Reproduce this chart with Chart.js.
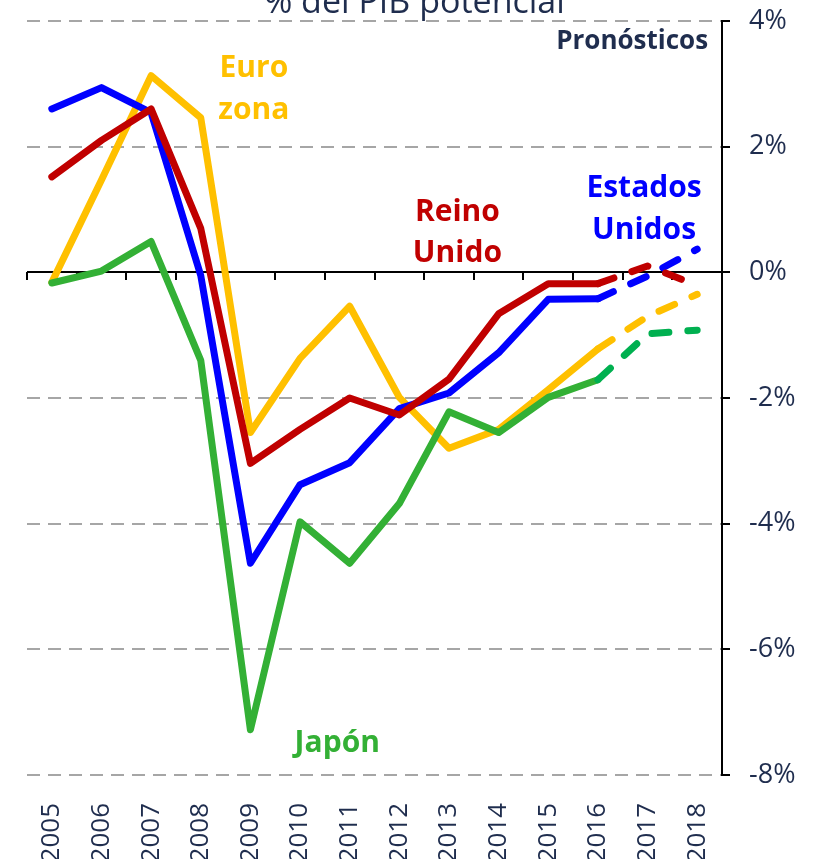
<!DOCTYPE html>
<html>
<head>
<meta charset="utf-8">
<script src="https://cdn.jsdelivr.net/npm/chart.js@4.4.0/dist/chart.umd.min.js"></script>
<style>
    body { margin: 0; background: #fff; }
</style>
</head>
<body>
<canvas id="chart" width="815" height="859"></canvas>
<script>
// Output gap, % of potential GDP
const years = ['2005', '2006', '2007', '2008', '2009', '2010', '2011', '2012', '2013', '2014', '2015', '2016', '2017', '2018'];
const estadosUnidos = [2.6, 2.94, 2.54, -0.05, -4.63, -3.38, -3.03, -2.17, -1.92, -1.28, -0.43, -0.42, -0.06, 0.37];
const reinoUnido = [1.52, 2.1, 2.6, 0.7, -3.04, -2.5, -2.0, -2.27, -1.7, -0.66, -0.18, -0.18, 0.1, -0.21];
const euroZona = [-0.16, 1.47, 3.13, 2.46, -2.55, -1.37, -0.54, -1.99, -2.8, -2.5, -1.87, -1.22, -0.7, -0.35];
const japon = [-0.17, 0.02, 0.49, -1.4, -7.28, -3.97, -4.63, -3.68, -2.22, -2.55, -1.99, -1.71, -0.98, -0.92];
const yTicks = [-8, -6, -4, -2, 0, 2, 4];
const forecastFrom = '2016';

const navy = '#1F2D4E';
const font = '"Open Sans"';
const forecastStart = years.indexOf(forecastFrom);

// series labels, placed in data coordinates (category index, value)
const seriesLabels = [
    { lines: ['Euro', 'zona'], color: '#FFC000', x: 4.07, y: [3.24, 2.57] },
    { lines: ['Reino', 'Unido'], color: '#C00000', x: 8.17, y: [0.95, 0.3] },
    { lines: ['Estados', 'Unidos'], color: '#0000FF', x: 11.93, y: [1.33, 0.67] },
    { lines: ['Japón'], color: '#33B035', x: 5.75, y: [-7.49] }
];

function lineSet(label, data, color, dashColor) {
    return {
        label: label,
        data: data,
        borderColor: color,
        borderWidth: 7,
        pointRadius: 0,
        pointHoverRadius: 0,
        tension: 0,
        fill: false,
        borderCapStyle: 'round',
        borderJoinStyle: 'round',
        segment: {
            borderDash: c => c.p0DataIndex >= forecastStart ? [17, 19] : undefined,
            borderColor: c => c.p0DataIndex >= forecastStart ? (dashColor || color) : undefined
        }
    };
}

// solid zero line with small ticks between the years
const zeroLinePlugin = {
    id: 'zeroLine',
    beforeDatasetsDraw(chart) {
        const { ctx, chartArea, scales: { x, y } } = chart;
        const y0 = Math.round(y.getPixelForValue(0));
        ctx.save();
        ctx.strokeStyle = '#000';
        ctx.lineWidth = 2;
        ctx.beginPath();
        ctx.moveTo(chartArea.left, y0);
        ctx.lineTo(chartArea.right, y0);
        for (let i = 0; i <= years.length; i++) {
            const px = Math.round(x.getPixelForValue(i - 0.5));
            ctx.moveTo(px, y0);
            ctx.lineTo(px, y0 + 8);
        }
        ctx.stroke();
        ctx.restore();
    }
};

const textPlugin = {
    id: 'texts',
    afterDatasetsDraw(chart) {
        const { ctx, scales: { x, y } } = chart;
        ctx.save();
        ctx.textBaseline = 'middle';
        ctx.textAlign = 'center';
        ctx.font = 'bold 30px ' + font;
        seriesLabels.forEach(l => {
            ctx.fillStyle = l.color;
            l.lines.forEach((t, i) => {
                ctx.fillText(t, x.getPixelForValue(l.x), y.getPixelForValue(l.y[i]));
            });
        });

        ctx.fillStyle = navy;
        ctx.textAlign = 'right';
        ctx.font = 'bold 26px ' + font;
        ctx.fillText('Pronósticos', x.getPixelForValue(13.22), y.getPixelForValue(3.68));

        // title, cut off by the top edge as in the original
        ctx.textAlign = 'center';
        ctx.textBaseline = 'alphabetic';
        ctx.font = '34px ' + font;
        ctx.fillText('% del PIB potencial', chart.width / 2 + 7, 13);
        ctx.restore();
    }
};

const ctx = document.getElementById('chart').getContext('2d');
new Chart(ctx, {
    type: 'line',
    data: {
        labels: years,
        datasets: [
            lineSet('Japón', japon, '#33B035', '#00B050'),
            lineSet('Reino Unido', reinoUnido, '#C00000'),
            lineSet('Estados Unidos', estadosUnidos, '#0000FF'),
            lineSet('Euro zona', euroZona, '#FFC000')
        ]
    },
    options: {
        responsive: false,
        animation: false,
        layout: { padding: { left: 27, top: 21, right: 0, bottom: 0 } },
        plugins: {
            legend: { display: false },
            tooltip: { enabled: false },
            title: { display: false }
        },
        scales: {
            x: {
                offset: true,
                grid: { display: false },
                border: { display: false },
                ticks: {
                    autoSkip: false,
                    minRotation: 90,
                    maxRotation: 90,
                    color: navy,
                    padding: 20,
                    font: { family: font, size: 26 }
                },
                afterFit: s => { s.height = 84; s.paddingLeft = 0; s.paddingRight = 0; }
            },
            y: {
                position: 'right',
                min: yTicks[0],
                max: yTicks[yTicks.length - 1],
                afterBuildTicks: s => { s.ticks = yTicks.map(v => ({ value: v })); },
                ticks: {
                    callback: v => v + '%',
                    color: navy,
                    padding: 19,
                    font: { family: font, size: 27 }
                },
                grid: {
                    color: c => c.tick && c.tick.value === 0 ? 'rgba(0,0,0,0)' : '#A6A6A6',
                    lineWidth: 2,
                    drawTicks: true,
                    tickLength: 8,
                    tickColor: '#000',
                    tickWidth: 2
                },
                border: { display: true, color: '#000', width: 2, dash: [13, 8] },
                afterFit: s => { s.width = 93; s.paddingTop = 0; s.paddingBottom = 0; }
            }
        }
    },
    plugins: [zeroLinePlugin, textPlugin]
});
</script>
</body>
</html>
